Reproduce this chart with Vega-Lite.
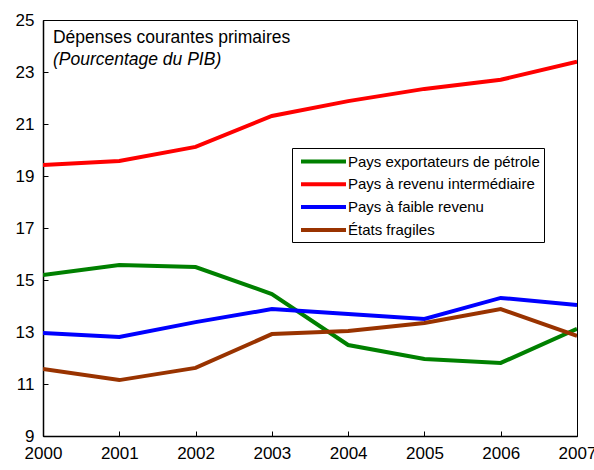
{
  "$schema": "https://vega.github.io/schema/vega-lite/v6.json",
  "width": 534,
  "height": 416,
  "autosize": {"type": "none"},
  "padding": {"left": 43, "top": 20, "right": 17, "bottom": 34},
  "background": "white",
  "config": {
    "view": {"stroke": "black", "strokeWidth": 1},
    "font": "Liberation Sans",
    "axis": {
      "grid": false,
      "domainColor": "black",
      "domainWidth": 1.5,
      "tickColor": "black",
      "tickWidth": 1,
      "tickSize": -5,
      "labelFont": "Liberation Sans",
      "labelFontSize": 17,
      "labelColor": "black",
      "title": null
    }
  },
  "datasets": {
    "series": [
      {"year": 2000, "series": "Pays exportateurs de pétrole", "value": 15.19},
      {"year": 2001, "series": "Pays exportateurs de pétrole", "value": 15.58},
      {"year": 2002, "series": "Pays exportateurs de pétrole", "value": 15.5},
      {"year": 2003, "series": "Pays exportateurs de pétrole", "value": 14.46},
      {"year": 2004, "series": "Pays exportateurs de pétrole", "value": 12.5},
      {"year": 2005, "series": "Pays exportateurs de pétrole", "value": 11.96},
      {"year": 2006, "series": "Pays exportateurs de pétrole", "value": 11.81},
      {"year": 2007, "series": "Pays exportateurs de pétrole", "value": 13.12},
      {"year": 2000, "series": "Pays à revenu intermédiaire", "value": 19.42},
      {"year": 2001, "series": "Pays à revenu intermédiaire", "value": 19.58},
      {"year": 2002, "series": "Pays à revenu intermédiaire", "value": 20.12},
      {"year": 2003, "series": "Pays à revenu intermédiaire", "value": 21.31},
      {"year": 2004, "series": "Pays à revenu intermédiaire", "value": 21.88},
      {"year": 2005, "series": "Pays à revenu intermédiaire", "value": 22.35},
      {"year": 2006, "series": "Pays à revenu intermédiaire", "value": 22.7},
      {"year": 2007, "series": "Pays à revenu intermédiaire", "value": 23.4},
      {"year": 2000, "series": "Pays à faible revenu", "value": 12.96},
      {"year": 2001, "series": "Pays à faible revenu", "value": 12.81},
      {"year": 2002, "series": "Pays à faible revenu", "value": 13.38},
      {"year": 2003, "series": "Pays à faible revenu", "value": 13.88},
      {"year": 2004, "series": "Pays à faible revenu", "value": 13.69},
      {"year": 2005, "series": "Pays à faible revenu", "value": 13.5},
      {"year": 2006, "series": "Pays à faible revenu", "value": 14.31},
      {"year": 2007, "series": "Pays à faible revenu", "value": 14.04},
      {"year": 2000, "series": "États fragiles", "value": 11.58},
      {"year": 2001, "series": "États fragiles", "value": 11.15},
      {"year": 2002, "series": "États fragiles", "value": 11.62},
      {"year": 2003, "series": "États fragiles", "value": 12.92},
      {"year": 2004, "series": "États fragiles", "value": 13.04},
      {"year": 2005, "series": "États fragiles", "value": 13.35},
      {"year": 2006, "series": "États fragiles", "value": 13.88},
      {"year": 2007, "series": "États fragiles", "value": 12.85}
    ],
    "labels": [
      {"x": 2000.17, "y": 25.8, "label": "à revenu intermédiaire...", "kind": "header"},
      {"x": 2000.13, "y": 24.31, "label": "Dépenses courantes primaires", "kind": "main"},
      {"x": 2000.13, "y": 23.46, "label": "(Pourcentage du PIB)", "kind": "sub"}
    ]
  },
  "layer": [
    {
      "data": {"name": "series"},
      "mark": {"type": "line", "strokeWidth": 4, "clip": true},
      "encoding": {
        "x": {
          "field": "year",
          "type": "quantitative",
          "scale": {"domain": [2000, 2007], "nice": false, "zero": false},
          "axis": {"values": [2000, 2001, 2002, 2003, 2004, 2005, 2006, 2007], "format": "d", "labelPadding": 14, "labelFlush": false}
        },
        "y": {
          "field": "value",
          "type": "quantitative",
          "scale": {"domain": [9, 25], "nice": false, "zero": false},
          "axis": {"values": [9, 11, 13, 15, 17, 19, 21, 23, 25], "labelPadding": 14}
        },
        "color": {
          "field": "series",
          "type": "nominal",
          "scale": {
            "domain": ["Pays exportateurs de pétrole", "Pays à revenu intermédiaire", "Pays à faible revenu", "États fragiles"],
            "range": ["#008000", "#ff0000", "#0000ff", "#993300"]
          },
          "legend": {
            "title": null,
            "orient": "none",
            "legendX": 249,
            "legendY": 128,
            "symbolType": "M-0.6,0H5.4",
            "symbolSize": 225,
            "symbolStrokeWidth": 4,
            "labelFont": "Liberation Sans",
            "labelFontSize": 15,
            "labelColor": "black",
            "labelLimit": 0,
            "labelOffset": 33,
            "rowPadding": 4.8,
            "strokeColor": "black",
            "padding": 4,
            "fillColor": "white"
          }
        }
      }
    },
    {
      "data": {"name": "labels"},
      "transform": [{"filter": "datum.kind === 'header'"}],
      "mark": {"type": "text", "clip": false, "font": "Liberation Sans", "fontSize": 20, "fontWeight": "bold", "align": "left", "baseline": "alphabetic"},
      "encoding": {
        "x": {"field": "x", "type": "quantitative"},
        "y": {"field": "y", "type": "quantitative"},
        "text": {"field": "label"}
      }
    },
    {
      "data": {"name": "labels"},
      "transform": [{"filter": "datum.kind === 'main'"}],
      "mark": {"type": "text", "font": "Liberation Sans", "fontSize": 17.5, "align": "left", "baseline": "middle"},
      "encoding": {
        "x": {"field": "x", "type": "quantitative"},
        "y": {"field": "y", "type": "quantitative"},
        "text": {"field": "label"}
      }
    },
    {
      "data": {"name": "labels"},
      "transform": [{"filter": "datum.kind === 'sub'"}],
      "mark": {"type": "text", "font": "Liberation Sans", "fontSize": 17.5, "fontStyle": "italic", "align": "left", "baseline": "middle"},
      "encoding": {
        "x": {"field": "x", "type": "quantitative"},
        "y": {"field": "y", "type": "quantitative"},
        "text": {"field": "label"}
      }
    }
  ]
}
